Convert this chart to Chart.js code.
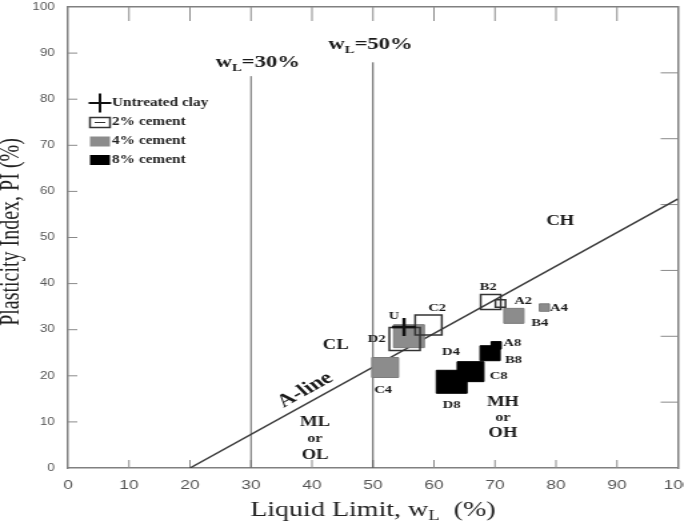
<!DOCTYPE html>
<html>
<head>
<meta charset="utf-8">
<script src="https://cdn.jsdelivr.net/npm/chart.js@4.4.0/dist/chart.umd.min.js"></script>
<style>
  html, body { margin: 0; padding: 0; background: #fff; }
  #plasticity { display: block; }
</style>
</head>
<body>
<!-- the chart is drawn narrow and stretched out to the page width -->
<canvas id="plasticity" width="513" height="526" style="width:684px;height:526px"></canvas>
<script>
// Casagrande plasticity chart: untreated clay and cement-treated samples A-D
const untreated = [{ x: 55.1, y: 30.6 }];
const untreatedIds = ['U'];

const cement2 = [{ x: 70.9, y: 35.7 }, { x: 69.3, y: 36.0 }, { x: 59.1, y: 31.0 }, { x: 55.2, y: 28.0 }];
const cement2Ids = ['A2', 'B2', 'C2', 'D2'];

const cement4 = [{ x: 78.1, y: 34.8 }, { x: 73.1, y: 33.0 }, { x: 52.0, y: 21.8 }, { x: 55.9, y: 28.6 }];
const cement4Ids = ['A4', 'B4', 'C4', 'D4'];

const cement8 = [{ x: 70.2, y: 26.6 }, { x: 69.2, y: 24.9 }, { x: 66.0, y: 20.9 }, { x: 62.9, y: 18.7 }];
const cement8Ids = ['A8', 'B8', 'C8', 'D8'];

// A-line (PI = 0.73 (wL - 20)) and the wL = 30 % / 50 % boundaries
const aLine = [{ x: 20, y: 0 }, { x: 100, y: 58.4 }];
const wl30 = [{ x: 30, y: 0 }, { x: 30, y: 85 }];
const wl50 = [{ x: 50, y: 0 }, { x: 50, y: 88 }];

const xTickValues = [0, 10, 20, 30, 40, 50, 60, 70, 80, 90, 100];
const yTickValues = [0, 10, 20, 30, 40, 50, 60, 70, 80, 90, 100];

// soil group names, placed in data units
const zoneLabels = [
  { text: 'CH', x: 80.7, y: 53.4 },
  { text: 'CL', x: 43.9, y: 26.7 },
  { text: 'ML', x: 40.5, y: 9.8 },
  { text: 'or', x: 40.5, y: 6.3, small: true },
  { text: 'OL', x: 40.5, y: 2.8 },
  { text: 'MH', x: 71.3, y: 14.3 },
  { text: 'or', x: 71.3, y: 10.8, small: true },
  { text: 'OH', x: 71.3, y: 7.4 }
];

// ---- styling ----
const SERIF = '"Liberation Serif", "Times New Roman", serif';
const SANS = '"Liberation Sans", Arial, sans-serif';
const GREY = '#8c8c8c';

// box side (px) per sample letter
const boxSide = { A: 7.5, B: 15, C: 20, D: 23 };
const boxRadius = ids => ctx => boxSide[ids[ctx.dataIndex][0]] / Math.SQRT2;

// label offsets from the marker centre (px)
const labelOffset = {
  U: [-7.5, -11],
  A2: [17, -2], B2: [-2, -15], C2: [6.5, -17], D2: [-21, 0],
  A4: [11, 0.5], B4: [19.5, 7], C4: [-1.5, 22.5], D4: [31.5, 16.5],
  A8: [12, -2.5], B8: [17.5, 7], C8: [21, 4.3], D8: [0, 23.5]
};

const pointGroups = [untreatedIds, cement2Ids, cement4Ids, cement8Ids];

function richText(ctx, parts, x, y, size, weight, align) {
  const fontFor = sub => `${weight} ${sub ? Math.round(size * 0.65) : size}px ${SERIF}`;
  let w = 0;
  parts.forEach(([t, sub]) => { ctx.font = fontFor(sub); w += ctx.measureText(t).width; });
  let cx = align === 'center' ? x - w / 2 : x;
  ctx.textAlign = 'left';
  ctx.textBaseline = 'middle';
  parts.forEach(([t, sub]) => {
    ctx.font = fontFor(sub);
    ctx.fillText(t, cx, sub ? y + size * 0.3 : y);
    cx += ctx.measureText(t).width;
  });
}

// tick marks pointing into the plot on all four sides
const innerTicks = {
  id: 'innerTicks',
  beforeDatasetsDraw(chart) {
    const { ctx, chartArea: a, scales } = chart;
    const marks = [
      [scales.x, v => [[v, a.bottom], [v, a.bottom - 8]]],
      [scales.x2, v => [[v, a.top], [v, a.top + 14]]],
      [scales.y, v => [[a.left, v], [a.left + 7, v]]],
      [scales.y2, v => [[a.right, v], [a.right - 13, v]]]
    ];
    ctx.save();
    ctx.strokeStyle = '#8a8a8a';
    ctx.lineWidth = 1;
    ctx.beginPath();
    marks.forEach(([scale, seg]) => {
      scale.ticks.forEach(t => {
        if (t.value <= scale.min || t.value >= scale.max) return;
        const [p0, p1] = seg(scale.getPixelForValue(t.value));
        ctx.moveTo(p0[0], p0[1]);
        ctx.lineTo(p1[0], p1[1]);
      });
    });
    ctx.stroke();
    ctx.restore();
  }
};

const annotations = {
  id: 'annotations',
  afterDatasetsDraw(chart) {
    const { ctx, scales: { x, y } } = chart;
    ctx.save();
    ctx.fillStyle = '#1a1a1a';

    // sample names next to their markers
    ctx.font = `bold 11px ${SERIF}`;
    ctx.textAlign = 'center';
    ctx.textBaseline = 'middle';
    pointGroups.forEach((ids, i) => {
      chart.getDatasetMeta(i).data.forEach((pt, j) => {
        const [dx, dy] = labelOffset[ids[j]];
        ctx.fillText(ids[j], pt.x + dx, pt.y + dy);
      });
    });

    zoneLabels.forEach(z => {
      ctx.font = `bold ${z.small ? 12 : 14}px ${SERIF}`;
      ctx.fillText(z.text, x.getPixelForValue(z.x), y.getPixelForValue(z.y));
    });

    // A-line name, turned to follow the line
    const x0 = x.getPixelForValue(aLine[0].x), y0 = y.getPixelForValue(aLine[0].y);
    const x1 = x.getPixelForValue(aLine[1].x), y1 = y.getPixelForValue(aLine[1].y);
    ctx.save();
    ctx.translate(x.getPixelForValue(38.9), y.getPixelForValue(16.9));
    ctx.rotate(Math.atan2(y1 - y0, x1 - x0));
    ctx.font = `bold 18px ${SERIF}`;
    ctx.fillText('A-line', 0, 0);
    ctx.restore();

    richText(ctx, [['w', false], ['L', true], ['=30%', false]],
      x.getPixelForValue(31.1), y.getPixelForValue(87.9), 17, 'bold', 'center');
    richText(ctx, [['w', false], ['L', true], ['=50%', false]],
      x.getPixelForValue(49.6), y.getPixelForValue(91.8), 17, 'bold', 'center');
    ctx.restore();
  },
  afterDraw(chart) {
    const { ctx, chartArea: a } = chart;
    ctx.save();
    ctx.fillStyle = '#222';

    // axis titles
    richText(ctx, [['Liquid Limit, w', false], ['L', true], ['  (%)', false]],
      (a.left + a.right) / 2, 510, 21, 'normal', 'center');
    ctx.save();
    ctx.translate(8.5, 232);
    ctx.rotate(-Math.PI / 2);
    ctx.font = `20px ${SERIF}`;
    ctx.textAlign = 'center';
    ctx.textBaseline = 'middle';
    ctx.fillText('Plasticity Index, PI (%)', 0, 0);
    ctx.restore();

    // legend
    const mx = 75, tx = 84;
    const rows = [103, 122.5, 141.5, 160];
    ctx.strokeStyle = '#111';
    ctx.lineWidth = 2;
    ctx.beginPath();
    ctx.moveTo(mx - 8.5, rows[0]); ctx.lineTo(mx + 8.5, rows[0]);
    ctx.moveTo(mx, rows[0] - 9.5); ctx.lineTo(mx, rows[0] + 9.5);
    ctx.stroke();

    ctx.lineWidth = 1.5;
    ctx.strokeStyle = '#333';
    ctx.strokeRect(mx - 7.5, rows[1] - 5, 15, 10);
    ctx.lineWidth = 1;
    ctx.beginPath();
    ctx.moveTo(mx - 4, rows[1]); ctx.lineTo(mx + 4, rows[1]);
    ctx.stroke();
    ctx.fillStyle = GREY;
    ctx.fillRect(mx - 7.5, rows[2] - 5, 15, 10);
    ctx.fillStyle = '#000';
    ctx.fillRect(mx - 7.5, rows[3] - 5, 15, 10);

    ctx.fillStyle = '#222';
    ctx.font = `bold 11.5px ${SERIF}`;
    ctx.textAlign = 'left';
    ctx.textBaseline = 'middle';
    ['Untreated clay', '2% cement', '4% cement', '8% cement'].forEach((t, i) => ctx.fillText(t, tx, rows[i]));
    ctx.restore();
  }
};

const frame = { display: true, color: '#808080', width: 1.5 };

new Chart(document.getElementById('plasticity'), {
  type: 'scatter',
  data: {
    datasets: [
      { label: 'Untreated clay', data: untreated, pointStyle: 'cross', pointRadius: 9,
        borderColor: '#111', borderWidth: 2.5 },
      { label: '2% cement', data: cement2, pointStyle: 'rect', pointRadius: boxRadius(cement2Ids),
        backgroundColor: 'rgba(0,0,0,0)', borderColor: '#333', borderWidth: 1.5 },
      { label: '4% cement', data: cement4, pointStyle: 'rect', pointRadius: boxRadius(cement4Ids),
        backgroundColor: GREY, borderColor: '#7d7d7d', borderWidth: 1 },
      { label: '8% cement', data: cement8, pointStyle: 'rect', pointRadius: boxRadius(cement8Ids),
        backgroundColor: '#000', borderColor: '#000', borderWidth: 1 },
      { label: 'A-line', data: aLine, showLine: true, pointRadius: 0, borderColor: '#3a3a3a', borderWidth: 1.5 },
      { label: 'wL 30', data: wl30, showLine: true, pointRadius: 0, borderColor: '#666', borderWidth: 1 },
      { label: 'wL 50', data: wl50, showLine: true, pointRadius: 0, borderColor: '#555', borderWidth: 1 }
    ]
  },
  options: {
    responsive: false,
    animation: false,
    layout: { autoPadding: false, padding: { left: 0, right: 4.5, top: 7, bottom: 0 } },
    plugins: { legend: { display: false }, tooltip: { enabled: false } },
    scales: {
      x: {
        type: 'linear', position: 'bottom', min: 0, max: 100,
        afterBuildTicks: s => { s.ticks = xTickValues.map(v => ({ value: v })); },
        afterFit: s => { s.height = 58; s.paddingLeft = 0; s.paddingRight = 0; },
        grid: { display: false, drawTicks: false },
        border: frame,
        ticks: { padding: 10, color: '#555', font: { family: SANS, size: 13 }, maxRotation: 0, autoSkip: false }
      },
      x2: {
        type: 'linear', position: 'top', min: 0, max: 100,
        afterBuildTicks: s => { s.ticks = xTickValues.map(v => ({ value: v })); },
        afterFit: s => { s.height = 0; s.paddingLeft = 0; s.paddingRight = 0; },
        grid: { display: false, drawTicks: false },
        border: frame,
        ticks: { display: false }
      },
      y: {
        type: 'linear', position: 'left', min: 0, max: 100,
        afterBuildTicks: s => { s.ticks = yTickValues.map(v => ({ value: v })); },
        afterFit: s => { s.width = 51; s.paddingTop = 0; s.paddingBottom = 0; },
        grid: { display: false, drawTicks: false },
        border: frame,
        ticks: { padding: 10, color: '#555', font: { family: SANS, size: 10 }, autoSkip: false }
      },
      y2: {
        type: 'linear', position: 'right', min: 0, max: 7,
        afterFit: s => { s.width = 0; s.paddingTop = 0; s.paddingBottom = 0; },
        grid: { display: false, drawTicks: false },
        border: frame,
        ticks: { display: false, stepSize: 1 }
      }
    }
  },
  plugins: [innerTicks, annotations]
});
</script>
</body>
</html>
